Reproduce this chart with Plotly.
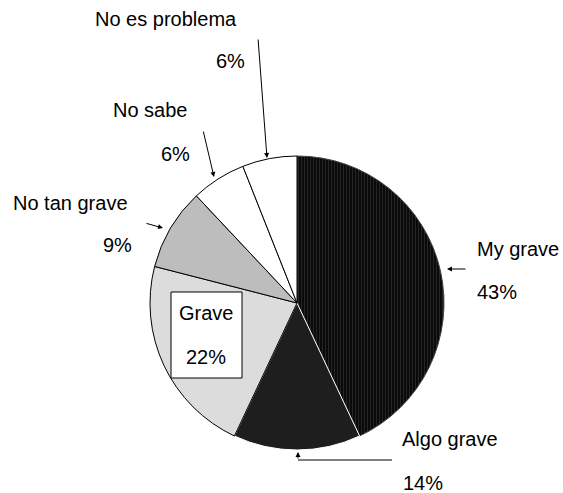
import plotly.graph_objects as go

W, H = 563, 493

categories = ["My grave", "Algo grave", "Grave", "No tan grave", "No sabe", "No es problema"]
values = [43, 14, 22, 9, 6, 6]
pct_labels = ["43%", "14%", "22%", "9%", "6%", "6%"]

colors = ["#000000", "#1e1e1e", "#dcdcdc", "#bdbdbd", "#ffffff", "#ffffff"]
line_colors = ["#444444", "#ffffff", "#000000", "#000000", "#000000", "#000000"]

def px(x):
    return x / W

def py(y):
    return 1 - y / H

cx, cy, r = 297, 303, 147

fig = go.Figure(go.Pie(
    labels=categories,
    values=values,
    sort=False,
    direction="clockwise",
    rotation=0,
    textinfo="none",
    hoverinfo="label+percent",
    marker=dict(
        colors=colors,
        line=dict(color=line_colors, width=1),
        pattern=dict(
            shape=["|", "", "", "", "", ""],
            fgcolor="#4a4a4a",
            fillmode="overlay",
            size=3,
            solidity=0.5,
        ),
    ),
    domain=dict(x=[px(cx - r), px(cx + r)], y=[py(cy + r), py(cy - r)]),
    showlegend=False,
))

font = dict(family="Liberation Sans, Arial, sans-serif", size=20, color="#000000")

# (label, pct, label pos, pct pos)
text_pos = {
    "No es problema": ((166, 19), (230, 61)),
    "No sabe": ((150, 110), (175, 154)),
    "No tan grave": ((70, 203), (117, 245)),
    "My grave": ((518, 249), (497, 292)),
    "Algo grave": ((450, 439), (423, 483)),
    "Grave": ((206, 313), (206, 357)),
}

annotations = []
for cat, pct in zip(categories, pct_labels):
    (lx, ly), (qx, qy) = text_pos[cat]
    annotations.append(dict(x=px(lx), y=py(ly), xref="paper", yref="paper",
                            text=cat, showarrow=False, font=font,
                            xanchor="center", yanchor="middle"))
    annotations.append(dict(x=px(qx), y=py(qy), xref="paper", yref="paper",
                            text=pct, showarrow=False, font=font,
                            xanchor="center", yanchor="middle"))

# arrows: (head x, head y, tail x, tail y)
arrows = [
    (267, 158, 258, 38),
    (214, 177, 203, 130),
    (163, 228, 145, 223),
    (447, 269, 467, 269),
    (298, 452, 298, 460),
]
for hx, hy, tx, ty in arrows:
    annotations.append(dict(x=px(hx), y=py(hy), xref="paper", yref="paper",
                            ax=tx - hx, ay=ty - hy, text="", showarrow=True,
                            arrowhead=2, arrowsize=1, arrowwidth=1,
                            arrowcolor="#000000"))

shapes = [
    dict(type="line", xref="paper", yref="paper",
         x0=px(392), y0=py(460), x1=px(298), y1=py(460),
         line=dict(color="#000000", width=1)),
    dict(type="rect", xref="paper", yref="paper",
         x0=px(171), y0=py(292), x1=px(242), y1=py(378),
         line=dict(color="#000000", width=1), fillcolor="#ffffff", layer="above"),
]

fig.update_layout(
    width=W, height=H,
    margin=dict(l=0, r=0, t=0, b=0),
    paper_bgcolor="#ffffff",
    plot_bgcolor="#ffffff",
    annotations=annotations,
    shapes=shapes,
)

fig.write_html("out.html",
               config={"displayModeBar": False},
               post_script="document.body.style.margin='0';document.body.style.overflow='hidden';")
